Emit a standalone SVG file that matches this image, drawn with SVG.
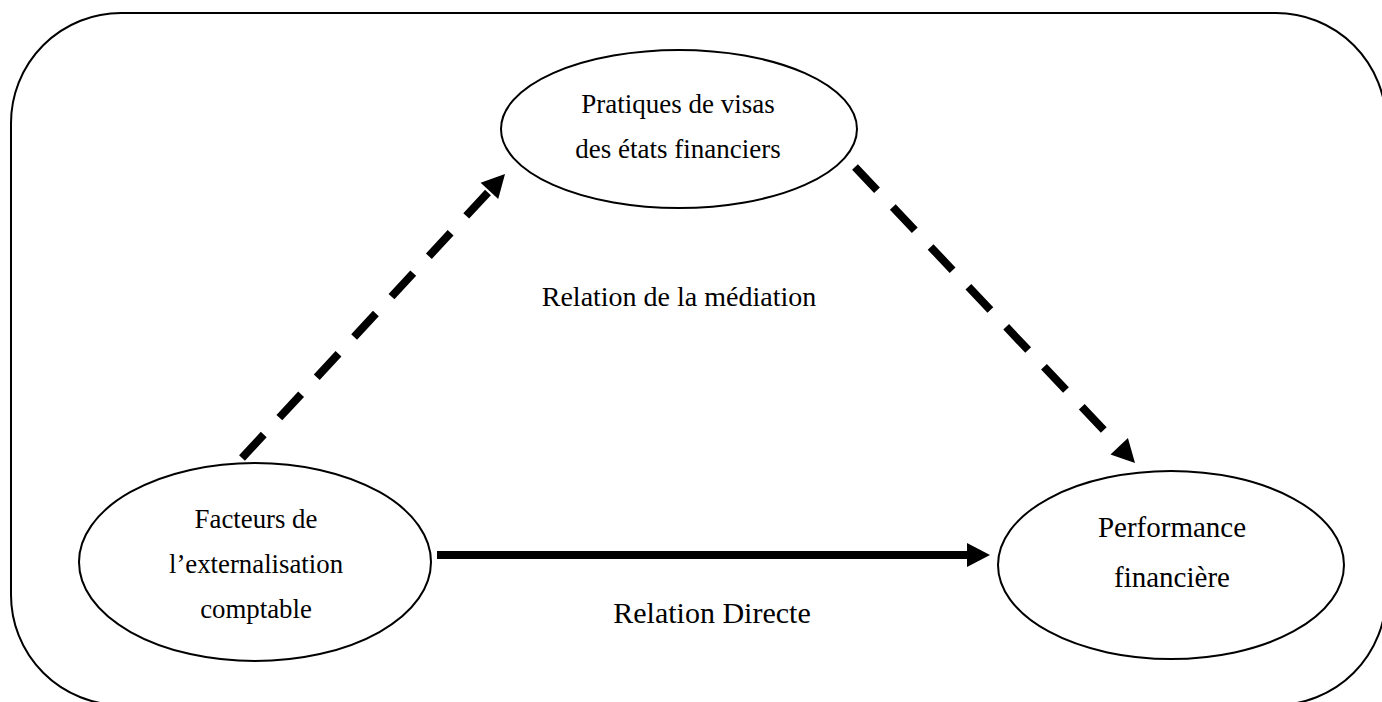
<svg xmlns="http://www.w3.org/2000/svg" width="1382" height="702" viewBox="0 0 1382 702">
<style>
.shape{fill:#fff;stroke:#000;stroke-width:2}
.t{font-family:"Liberation Serif","Times New Roman",serif;fill:#000;text-anchor:middle}
.conn{stroke:#000;stroke-width:8;fill:none}
.dash{stroke-dasharray:32 23}
</style>
<defs>
<marker id="ah" markerUnits="userSpaceOnUse" markerWidth="24" markerHeight="26" refX="0" refY="13" orient="auto" overflow="visible">
<path d="M0,1 L23,13 L0,25 Z" fill="#000"/>
</marker>
</defs>
<rect id="frame" x="11" y="13" width="1375" height="692" rx="110" ry="110" fill="#fff" stroke="#000" stroke-width="2"/>
<g id="connectors">
<line class="conn dash" x1="242" y1="458" x2="489.4" y2="190.9" marker-end="url(#ah)"/>
<line class="conn dash" x1="855" y1="167" x2="1119.2" y2="446.3" marker-end="url(#ah)"/>
<line class="conn" x1="437" y1="555" x2="967" y2="555" marker-end="url(#ah)"/>
</g>
<g id="node-pratiques">
<ellipse class="shape" cx="679" cy="129" rx="178" ry="79"/>
<text class="t" x="678" y="113" font-size="27">Pratiques de visas</text>
<text class="t" x="678" y="158" font-size="27">des états financiers</text>
</g>
<g id="node-facteurs">
<ellipse class="shape" cx="255" cy="562" rx="176" ry="99"/>
<text class="t" x="256" y="528" font-size="26.8">Facteurs de</text>
<text class="t" x="256" y="573" font-size="26.8">l’externalisation</text>
<text class="t" x="256" y="618" font-size="26.8">comptable</text>
</g>
<g id="node-performance">
<ellipse class="shape" cx="1171" cy="565" rx="173" ry="94"/>
<text class="t" x="1172" y="537" font-size="29">Performance</text>
<text class="t" x="1172" y="587" font-size="29">financière</text>
</g>
<g id="labels">
<text class="t" x="679" y="306" font-size="28">Relation de la médiation</text>
<text class="t" x="712" y="623" font-size="30">Relation Directe</text>
</g>
</svg>
